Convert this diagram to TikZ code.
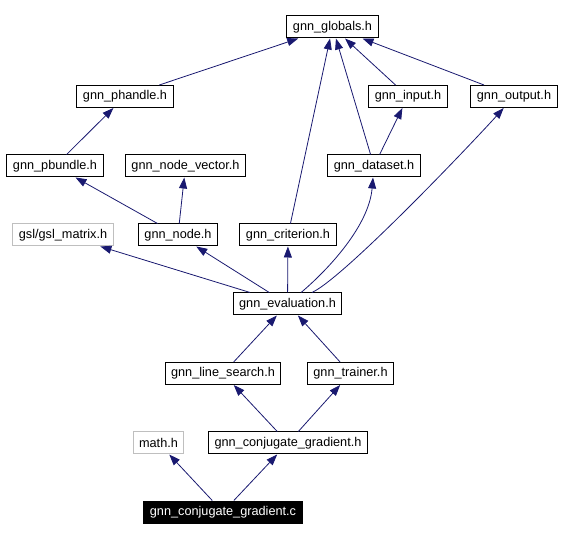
\documentclass[tikz,border=0pt]{standalone}
\usepackage{fontspec}
\setmainfont{Liberation Sans}
\usetikzlibrary{arrows.meta}
\definecolor{edgeblue}{RGB}{25,25,112}
\definecolor{sysgray}{RGB}{191,191,191}

\begin{document}
\begin{tikzpicture}[x=1pt,y=1pt,
            file node/.style={draw=black, line width=1pt, inner xsep=6pt, inner ysep=0pt, minimum height=22pt, font=\fontsize{12.7}{15}\selectfont},
            sys node/.style={file node, draw=sysgray},
            main file/.style={file node, fill=black, text=white},
            inc/.style={draw=edgeblue, line width=0.8pt, -{Triangle[length=11pt,width=8pt]}},
            ]
            \useasboundingbox (0,0) rectangle (561,540);

            \node[file node] (globals) at (332.5,513) {gnn\_globals.h};
            \node[file node] (phandle) at (125,443.5) {gnn\_phandle.h};
            \node[file node] (input) at (408,443.5) {gnn\_input.h};
            \node[file node] (output) at (514,443.5) {gnn\_output.h};
            \node[file node] (pbundle) at (55,374) {gnn\_pbundle.h};
            \node[file node] (nodevector) at (185.5,374) {gnn\_node\_vector.h};
            \node[file node] (dataset) at (374,374) {gnn\_dataset.h};
            \node[sys node] (gslmatrix) at (63,305) {gsl/gsl\_matrix.h};
            \node[file node] (node) at (178,305) {gnn\_node.h};
            \node[file node] (criterion) at (288,305) {gnn\_criterion.h};
            \node[file node] (evaluation) at (287.5,236) {gnn\_evaluation.h};
            \node[file node] (linesearch) at (223,166.5) {gnn\_line\_search.h};
            \node[file node] (trainer) at (350.5,166.5) {gnn\_trainer.h};
            \node[sys node] (math) at (158.5,97) {math.h};
            \node[file node] (conjh) at (288,97) {gnn\_conjugate\_gradient.h};
            \node[main file] (conjc) at (223,28) {gnn\_conjugate\_gradient.c};

            \draw[inc] (conjc) -- (math);
            \draw[inc] (conjc) -- (conjh);
            \draw[inc] (conjh) -- (linesearch);
            \draw[inc] (conjh) -- (trainer);
            \draw[inc] (linesearch) -- (evaluation);
            \draw[inc] (trainer) -- (evaluation);
            \draw[inc] (evaluation) -- (gslmatrix);
            \draw[inc] (evaluation) -- (node);
            \draw[inc] (evaluation) -- (criterion);
            \draw[inc] (evaluation) .. controls (330,272) and (369,315) .. (dataset);
            \draw[inc] (evaluation) .. controls (345,263) and (474,399) .. (output);
            \draw[inc] (node) -- (pbundle);
            \draw[inc] (node) -- (nodevector);
            \draw[inc] (pbundle) -- (phandle);
            \draw[inc] (phandle) -- (globals);
            \draw[inc] (criterion) -- (globals);
            \draw[inc] (dataset) -- (globals);
            \draw[inc] (dataset) -- (input);
            \draw[inc] (input) -- (globals);
            \draw[inc] (output) -- (globals);
        \end{tikzpicture}
\end{document}
